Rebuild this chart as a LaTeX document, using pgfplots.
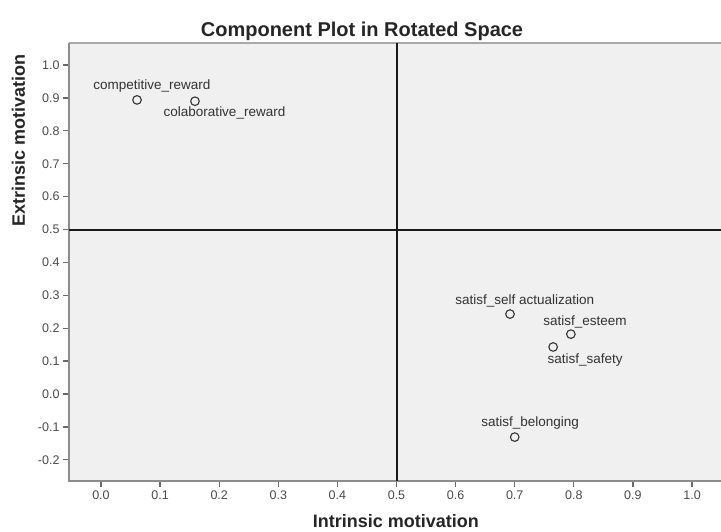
\documentclass[border=0pt]{standalone}
\usepackage{fontspec}
\setmainfont{Liberation Sans}
\usepackage{pgfplots}
\pgfplotsset{compat=1.18}
\definecolor{plotbg}{HTML}{F0F0F0}
\definecolor{framegray}{HTML}{8C8C8C}
\definecolor{tickgray}{HTML}{6A6A6A}
\definecolor{labelgray}{HTML}{4A4A4A}
\definecolor{ptgray}{HTML}{333333}
\begin{document}
\begin{tikzpicture}
\begin{axis}[
  scale only axis, width=652pt, height=438pt,
  xmin=-0.0541, xmax=1.049, ymin=-0.2644, ymax=1.067,
  clip=false,
  axis background/.style={fill=plotbg},
  axis line style={draw=none},
  xtick={0,0.1,0.2,0.3,0.4,0.5,0.6,0.7,0.8,0.9,1.0},
  ytick={-0.2,-0.1,0,0.1,0.2,0.3,0.4,0.5,0.6,0.7,0.8,0.9,1.0},
  xticklabel={\pgfmathprintnumber[fixed,fixed zerofill,precision=1,assume math mode=true]{\tick}},
  yticklabel={\pgfmathprintnumber[fixed,fixed zerofill,precision=1,assume math mode=true]{\tick}},
  tick align=outside, xtick pos=left, ytick pos=left,
  major tick length=6pt,
  tick style={tickgray, line width=1.3pt},
  ticklabel style={font=\fontsize{12.5}{14}\selectfont, text=labelgray},
]
\coordinate (BL) at (rel axis cs:0,0);
\coordinate (TR) at (rel axis cs:1,1);
\draw[framegray!75, line width=1.5pt] (rel axis cs:0,1) -- (rel axis cs:1,1);
\draw[framegray, line width=1.6pt] (rel axis cs:0,1) -- (rel axis cs:0,0) -- (rel axis cs:1,0);
\addplot[black!90, line width=2pt] coordinates {(0.5,-0.2644) (0.5,1.067)};
\addplot[black!90, line width=2pt] coordinates {(-0.0541,0.5) (1.049,0.5)};
\addplot[only marks, mark=o, mark size=4.3pt, ptgray, mark options={line width=1.1pt}] table {
x y
0.061 0.894
0.159 0.890
0.692 0.243
0.795 0.182
0.765 0.143
0.700 -0.131
};
\begin{scope}[every node/.style={font=\fontsize{13.5}{15}\selectfont, text=ptgray, inner sep=0pt}]
\node at (axis cs:0.0863,0.936) {competitive\_reward};
\node at (axis cs:0.209,0.854) {colaborative\_reward};
\node at (axis cs:0.717,0.283) {satisf\_self actualization};
\node at (axis cs:0.819,0.219) {satisf\_esteem};
\node at (axis cs:0.819,0.103) {satisf\_safety};
\node at (axis cs:0.726,-0.088) {satisf\_belonging};
\end{scope}
\node[anchor=base, font=\bfseries\fontsize{20}{22}\selectfont, text=black!85, inner sep=0pt] at (axis cs:0.4416,1.088) {Component Plot in Rotated Space};
\node[anchor=base, font=\bfseries\fontsize{18}{20}\selectfont, text=black!85, inner sep=0pt] at (axis cs:0.499,-0.4043) {Intrinsic motivation};
\node[anchor=base, rotate=90, font=\bfseries\fontsize{18}{20}\selectfont, text=black!85, inner sep=0pt] at (axis cs:-0.1286,0.772) {Extrinsic motivation};
\end{axis}
\pgfresetboundingbox
\path ([shift={(-69pt,-51pt)}]BL) rectangle ([shift={(0pt,43pt)}]TR);
\end{tikzpicture}
\end{document}
